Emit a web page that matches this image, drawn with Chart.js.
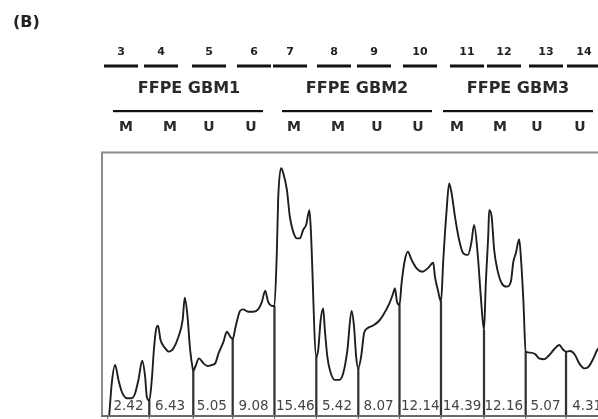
<!DOCTYPE html>
<html>
<head>
<meta charset="utf-8">
<script src="https://cdn.jsdelivr.net/npm/chart.js@4.4.1/dist/chart.umd.min.js"></script>
<style>
  html, body { margin: 0; padding: 0; background: #fff; overflow: hidden; }
  canvas { display: block; }
</style>
</head>
<body>
<canvas id="trace" width="598" height="419"></canvas>
<script>
// lane headers
var laneNums = ['3', '4', '5', '6', '7', '8', '9', '10', '11', '12', '13', '14'];
var laneMarks = ['M', 'M', 'U', 'U', 'M', 'M', 'U', 'U', 'M', 'M', 'U', 'U'];
var groupNames = ['FFPE GBM1', 'FFPE GBM2', 'FFPE GBM3'];
// value printed under each lane peak
var laneValues = ['2.42', '6.43', '5.05', '9.08', '15.46', '5.42', '8.07', '12.14', '14.39', '12.16', '5.07', '4.31'];

// densitometry trace (x = scan position, 10 units per lane ; y = intensity 0-100)
var traceX = [0.4, 1.0, 1.8, 2.6, 3.4, 4.6, 5.8, 6.6, 7.4, 8.3, 9.0, 9.4, 10.0,
  10.6, 11.1, 11.6, 12.1, 12.7, 13.8, 14.7, 15.8, 17.0, 18.0, 18.5, 19.1, 19.8, 20.4, 20.55,
  21.1, 21.9, 23.0, 24.0, 25.0, 25.8, 26.6, 27.8, 28.6, 29.4, 30.0,
  30.7, 31.8, 32.5, 33.7, 34.9, 36.1, 37.0, 37.8, 38.5, 39.7, 40.0,
  40.6, 40.9, 41.6, 42.1, 43.0, 43.7, 44.5, 45.4, 46.1, 46.9, 47.6, 48.4, 48.7, 50.05,
  50.5, 51.1, 51.7, 52.1, 52.7, 53.3, 54.5, 55.6, 56.5, 57.5, 58.5, 59.1, 59.6, 60.1,
  60.8, 61.5, 62.3, 63.6, 64.9, 66.1, 67.6, 68.5, 68.9, 69.4, 70.0,
  70.5, 71.2, 72.0, 72.9, 74.1, 75.5, 76.8, 78.1, 78.5, 79.2, 79.95,
  80.5, 81.3, 81.9, 82.5, 83.3, 84.3, 85.3, 86.4, 87.2, 87.9, 88.8, 89.5, 90.26,
  90.7, 91.3, 91.5, 92.1, 92.7, 93.5, 94.5, 95.7, 96.7, 97.3, 97.9, 98.7, 99.1, 99.7, 100.26,
  101.3, 102.5, 103.5, 104.7, 105.7, 107.1, 108.3, 109.3, 109.93,
  110.9, 112.1, 113.1, 114.3, 115.3, 116.5, 117.4, 118.6];
var traceY = [0, 12.1, 19.1, 13.4, 8.9, 6.4, 6.4, 8.3, 13.4, 20.7, 14.6, 7.0, 5.5,
  13.4, 24.8, 32.4, 34.1, 28.6, 25.5, 24.2, 25.5, 29.9, 36.3, 44.8, 38.8, 24.8, 17.8, 16.9,
  18.7, 21.6, 19.7, 18.7, 19.1, 19.7, 23.5, 28.0, 31.8, 29.9, 29.0,
  33.7, 39.8, 40.3, 39.4, 39.4, 40.3, 43.2, 47.4, 43.2, 41.6, 41.6,
  63.0, 82.1, 94.2, 92.5, 85.9, 75.7, 70.0, 67.4, 67.4, 70.6, 72.5, 78.2, 71.9, 22.3,
  24.8, 36.3, 40.7, 32.4, 22.3, 17.2, 13.4, 13.4, 15.9, 24.8, 39.7, 33.7, 22.3, 17.8,
  22.3, 31.2, 33.1, 34.1, 35.6, 38.2, 42.7, 46.5, 48.4, 43.2, 42.0,
  50.3, 58.5, 62.3, 59.2, 56.0, 54.7, 56.0, 58.1, 52.8, 47.7, 43.2,
  59.2, 78.2, 88.4, 84.6, 75.7, 66.8, 61.7, 61.1, 65.5, 72.5, 60.4, 45.2, 32.4,
  50.3, 69.4, 78.2, 75.7, 63.0, 55.3, 50.3, 49.0, 50.9, 58.5, 61.7, 67.1, 60.4, 43.9, 24.2,
  23.8, 23.3, 21.6, 21.3, 22.5, 25.1, 26.7, 24.8, 24.2,
  24.4, 22.9, 19.7, 17.8, 18.4, 21.6, 24.8, 26.7];

// lane dividers: scan position and trace height where each cut is made
var dividerX = [10.0, 20.55, 30.0, 40.02, 50.05, 60.12, 70.0, 79.95, 90.26, 100.26, 109.93];
var dividerY = [5.5, 16.9, 29.0, 41.6, 22.3, 17.8, 42.0, 43.2, 32.4, 24.2, 24.2];

// header layout (pixels)
var numPx = [121, 161, 209, 254, 290, 334, 374, 420, 467, 504, 546, 584];
var markPx = [126, 170, 209, 251, 294, 338, 377, 418, 457, 500, 537, 580];
var groupPx = [189, 357, 518];
var groupLine = [[113, 263], [282, 432], [443, 593]];

var headerPlugin = {
    id: 'header',
    beforeDraw: function (chart) {
        var c = chart.ctx;
        var a = chart.chartArea;
        var xs = chart.scales.x;
        c.save();
        c.fillStyle = '#222';
        c.textBaseline = 'alphabetic';
        c.textAlign = 'left';
        c.font = 'bold 16px "DejaVu Sans"';
        c.fillText('(B)', 13, 27);

        c.textAlign = 'center';
        c.font = 'bold 11px "DejaVu Sans"';
        laneNums.forEach(function (t, i) { c.fillText(t, numPx[i], 55); });
        c.fillStyle = '#111';
        laneNums.forEach(function (t, i) { c.fillRect(numPx[i] - 17, 64.5, 34, 3); });

        c.fillStyle = '#2a2a2a';
        c.font = 'bold 16px "DejaVu Sans"';
        groupNames.forEach(function (t, i) { c.fillText(t, groupPx[i], 93); });
        c.fillStyle = '#111';
        groupLine.forEach(function (g) { c.fillRect(g[0], 110, g[1] - g[0], 2.2); });

        c.fillStyle = '#2a2a2a';
        c.font = 'bold 14px "DejaVu Sans"';
        laneMarks.forEach(function (t, i) { c.fillText(t, markPx[i], 131); });

        // frame of the scan
        c.strokeStyle = '#8c8c8c';
        c.lineWidth = 2;
        c.beginPath();
        c.moveTo(a.right + 2, a.top - 0.5);
        c.lineTo(a.left, a.top - 0.5);
        c.lineTo(a.left, a.bottom + 1);
        c.stroke();
        c.strokeStyle = '#6a6a6a';
        c.beginPath();
        c.moveTo(a.left - 1, a.bottom + 1);
        c.lineTo(a.right + 2, a.bottom + 1);
        c.stroke();
        c.lineWidth = 1.2;
        c.beginPath();
        [0].concat(dividerX).forEach(function (v) {
            var px = xs.getPixelForValue(v);
            c.moveTo(px, a.bottom + 1);
            c.lineTo(px, a.bottom + 4);
        });
        c.stroke();
        c.restore();
    },
    afterDraw: function (chart) {
        var c = chart.ctx;
        var xs = chart.scales.x;
        c.save();
        c.fillStyle = '#444';
        c.font = '13.5px "DejaVu Sans"';
        c.textAlign = 'center';
        c.textBaseline = 'alphabetic';
        laneValues.forEach(function (t, i) {
            c.fillText(t, xs.getPixelForValue(i * 10 + 5), 410);
        });
        c.restore();
    }
};

var tracePts = traceX.map(function (x, i) { return { x: x, y: traceY[i] }; });
var cutPts = dividerX.map(function (x, i) { return { x: x, y: dividerY[i] }; });

const ctx = document.getElementById('trace');
const myChart = new Chart(ctx, {
    type: 'line',
    data: {
        datasets: [{
            label: 'trace',
            data: tracePts,
            borderColor: '#1e1e1e',
            borderWidth: 1.9,
            pointRadius: 0,
            cubicInterpolationMode: 'monotone',
            fill: false
        }, {
            type: 'bar',
            label: 'cuts',
            data: cutPts,
            backgroundColor: '#333',
            barThickness: 1.6
        }]
    },
    options: {
        responsive: false,
        animation: false,
        devicePixelRatio: 1,
        layout: { padding: { left: 102, top: 153, right: 0, bottom: 4 } },
        plugins: {
            legend: { display: false },
            tooltip: { enabled: false },
            title: { display: false }
        },
        scales: {
            x: { type: 'linear', display: false, offset: false, min: -1.34, max: 117.6 },
            y: { display: false, min: 0, max: 100 }
        }
    },
    plugins: [headerPlugin]
});
</script>
</body>
</html>
